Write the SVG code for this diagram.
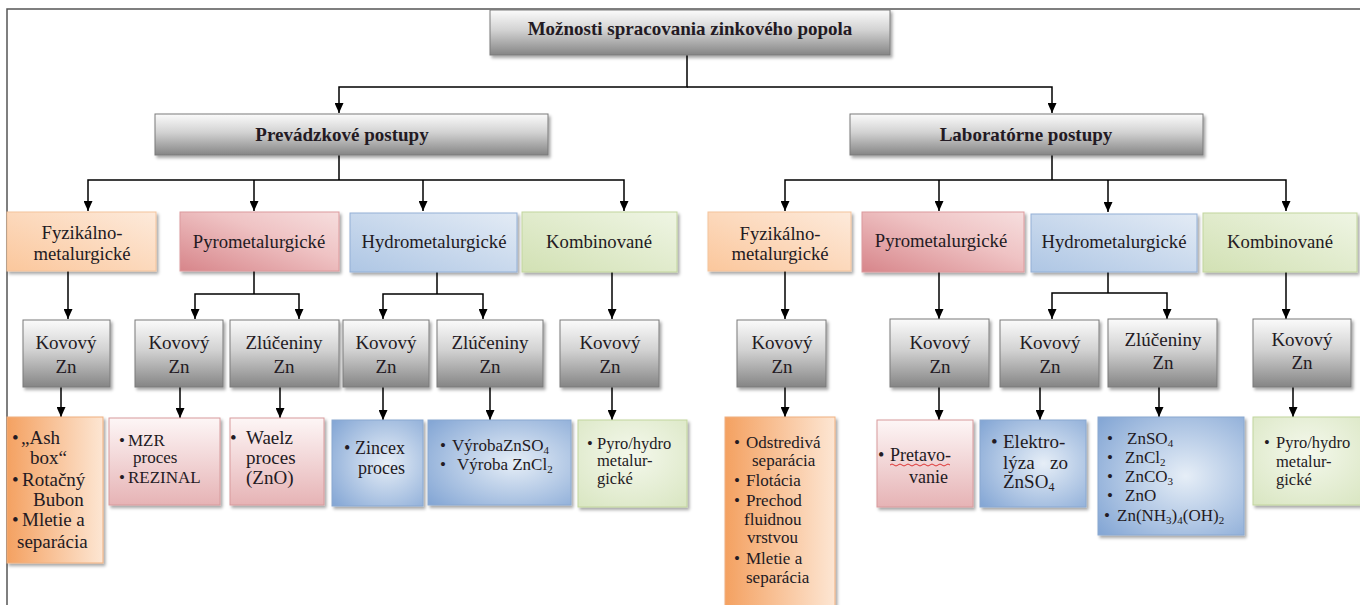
<svg xmlns="http://www.w3.org/2000/svg" width="1360" height="605" viewBox="0 0 1360 605" font-family="'Liberation Serif','DejaVu Serif','Times New Roman',serif">
<style>
text{font-family:'Liberation Serif','DejaVu Serif','Times New Roman',serif;fill:#231a23}
.h{font-weight:bold;font-size:19px;text-anchor:middle}
.l2{font-size:18.7px;text-anchor:middle}
.l3{font-size:19px;text-anchor:middle}
.t19{font-size:19px}
.t18{font-size:18px}
.t17{font-size:17px}
.t16{font-size:16.5px}
.c{fill:none;stroke:#000;stroke-width:1.5}
.a{marker-end:url(#ah)}
.gray{fill:url(#gGray);stroke:#7a7a7a;stroke-width:1;filter:url(#sh)}
.or2{fill:url(#gOr2);stroke:#f3c39c;stroke-width:1;filter:url(#sh)}
.pk2{fill:url(#gPk2);stroke:#dc9a9d;stroke-width:1;filter:url(#sh)}
.bl2{fill:url(#gBl2);stroke:#93b0d6;stroke-width:1;filter:url(#sh)}
.gr2{fill:url(#gGr2);stroke:#c2d59d;stroke-width:1;filter:url(#sh)}
.or4{fill:url(#gOr4);stroke:#efb080;stroke-width:1;filter:url(#sh)}
.pk4{fill:url(#gPk4);stroke:#d79a9c;stroke-width:1;filter:url(#sh)}
.bl4{fill:url(#gBl4);stroke:#8aa8d0;stroke-width:1;filter:url(#sh)}
.gr4{fill:url(#gGr4);stroke:#c2d59d;stroke-width:1;filter:url(#sh)}
</style>
<defs>
<marker id="ah" markerWidth="10" markerHeight="9" refX="10" refY="4.5" orient="auto" markerUnits="userSpaceOnUse"><path d="M0,0 L10,4.5 L0,9 z" fill="#000"/></marker>
<filter id="sh" x="-10%" y="-10%" width="125%" height="130%"><feDropShadow dx="2" dy="2.5" stdDeviation="1.5" flood-color="#000" flood-opacity="0.35"/></filter>
<linearGradient id="gGray" x1="0" y1="0" x2="0" y2="1"><stop offset="0" stop-color="#fbfbfb"/><stop offset="0.45" stop-color="#d2d2d2"/><stop offset="1" stop-color="#858585"/></linearGradient>
<linearGradient id="gOr2" x1="0" y1="1" x2="1" y2="0"><stop offset="0" stop-color="#fbc79c"/><stop offset="1" stop-color="#fdeadb"/></linearGradient>
<linearGradient id="gPk2" x1="0" y1="1" x2="1" y2="0"><stop offset="0" stop-color="#d7858a"/><stop offset="0.6" stop-color="#efc3c4"/><stop offset="1" stop-color="#f6dede"/></linearGradient>
<linearGradient id="gBl2" x1="0" y1="1" x2="1" y2="0"><stop offset="0" stop-color="#aec6e4"/><stop offset="1" stop-color="#e3ebf5"/></linearGradient>
<linearGradient id="gGr2" x1="0" y1="1" x2="1" y2="0"><stop offset="0" stop-color="#d2e1b4"/><stop offset="1" stop-color="#eff5e4"/></linearGradient>
<linearGradient id="gOr4" x1="0" y1="0" x2="1" y2="0"><stop offset="0" stop-color="#f4a161"/><stop offset="1" stop-color="#fde6d3"/></linearGradient>
<linearGradient id="gPk4" x1="0" y1="0" x2="0" y2="1"><stop offset="0" stop-color="#fdf6f6"/><stop offset="1" stop-color="#e6b3b5"/></linearGradient>
<radialGradient id="gBl4" cx="0.6" cy="0.5" r="0.75"><stop offset="0" stop-color="#e6eef7"/><stop offset="1" stop-color="#85a7d5"/></radialGradient>
<radialGradient id="gGr4" cx="0.5" cy="0.4" r="0.8"><stop offset="0" stop-color="#f4f8ec"/><stop offset="1" stop-color="#d8e5c0"/></radialGradient>
</defs>
<rect width="1360" height="605" fill="#fff"/>
<path d="M7,605 V9 H1360" fill="none" stroke="#555" stroke-width="1.5"/>

<g id="connectors">
<path class="c a" d="M687,55 V87 H339 V113"/>
<path class="c a" d="M687,87 H1052 V113"/>
<path class="c" d="M339,155 V180"/>
<path class="c a" d="M339,180 H88 V211"/>
<path class="c a" d="M254,180 V211"/>
<path class="c a" d="M339,180 H624 V211"/>
<path class="c a" d="M423,180 V211"/>
<path class="c" d="M1052,155 V180"/>
<path class="c a" d="M1052,180 H785 V211"/>
<path class="c a" d="M939,180 V211"/>
<path class="c a" d="M1052,180 H1286 V211"/>
<path class="c a" d="M1108,180 V212"/>
<path class="c a" d="M68,271 V319"/>
<path class="c" d="M254,271 V294"/>
<path class="c a" d="M254,294 H195 V319"/>
<path class="c a" d="M254,294 H299 V319"/>
<path class="c" d="M437,272 V294"/>
<path class="c a" d="M437,294 H383 V319"/>
<path class="c a" d="M437,294 H483 V319"/>
<path class="c a" d="M612,272 V319"/>
<path class="c a" d="M785,271 V319"/>
<path class="c a" d="M939,272 V319"/>
<path class="c" d="M1108,272 V293"/>
<path class="c a" d="M1108,293 H1052 V319"/>
<path class="c a" d="M1108,293 H1167 V319"/>
<path class="c a" d="M1286,272 V319"/>
<path class="c a" d="M61,387 V417"/>
<path class="c a" d="M180,387 V418"/>
<path class="c a" d="M280,387 V418"/>
<path class="c a" d="M383,387 V420"/>
<path class="c a" d="M490,387 V420"/>
<path class="c a" d="M612,387 V420"/>
<path class="c a" d="M785,387 V417"/>
<path class="c a" d="M939,387 V420"/>
<path class="c a" d="M1040,387 V420"/>
<path class="c a" d="M1159,387 V417"/>
<path class="c a" d="M1293,387 V417"/>
</g>

<g id="root"><rect class="gray" x="490" y="10" width="400" height="45"/><text class="h" x="690" y="35">Možnosti spracovania zinkového popola</text></g>
<g id="prevadzkove"><rect class="gray" x="155" y="114" width="393" height="41"/><text class="h" x="342" y="141" font-size="20">Prevádzkové postupy</text></g>
<g id="laboratorne"><rect class="gray" x="850" y="114" width="353" height="41"/><text class="h" x="1026" y="141" font-size="20">Laboratórne postupy</text></g>

<g id="p-fyz"><rect class="or2" x="7" y="212" width="149" height="59"/><text class="l2" x="82" y="239">Fyzikálno-</text><text class="l2" x="82" y="260">metalurgické</text></g>
<g id="p-pyro"><rect class="pk2" x="180" y="212" width="159" height="59"/><text class="l2" x="259" y="248">Pyrometalurgické</text></g>
<g id="p-hydro"><rect class="bl2" x="350" y="213" width="167" height="59"/><text class="l2" x="434" y="248">Hydrometalurgické</text></g>
<g id="p-komb"><rect class="gr2" x="522" y="212" width="155" height="60"/><text class="l2" x="599" y="248">Kombinované</text></g>
<g id="l-fyz"><rect class="or2" x="708" y="212" width="143" height="59"/><text class="l2" x="780" y="240">Fyzikálno-</text><text class="l2" x="780" y="260">metalurgické</text></g>
<g id="l-pyro"><rect class="pk2" x="862" y="212" width="162" height="60"/><text class="l2" x="941" y="247">Pyrometalurgické</text></g>
<g id="l-hydro"><rect class="bl2" x="1031" y="214" width="166" height="58"/><text class="l2" x="1114" y="248">Hydrometalurgické</text></g>
<g id="l-komb"><rect class="gr2" x="1203" y="213" width="154" height="59"/><text class="l2" x="1280" y="248">Kombinované</text></g>

<g id="p-fyz-kov"><rect class="gray" x="23" y="320" width="87" height="67"/><text class="l3" x="66" y="349">Kovový</text><text class="l3" x="66" y="373">Zn</text></g>
<g id="p-pyro-kov"><rect class="gray" x="135" y="320" width="88" height="67"/><text class="l3" x="179" y="349">Kovový</text><text class="l3" x="179" y="373">Zn</text></g>
<g id="p-pyro-zl"><rect class="gray" x="230" y="320" width="109" height="67"/><text class="l3" x="284" y="349">Zlúčeniny</text><text class="l3" x="284" y="373">Zn</text></g>
<g id="p-hydro-kov"><rect class="gray" x="343" y="320" width="86" height="67"/><text class="l3" x="386" y="349">Kovový</text><text class="l3" x="386" y="373">Zn</text></g>
<g id="p-hydro-zl"><rect class="gray" x="437" y="320" width="106" height="67"/><text class="l3" x="490" y="349">Zlúčeniny</text><text class="l3" x="490" y="373">Zn</text></g>
<g id="p-komb-kov"><rect class="gray" x="560" y="320" width="99" height="67"/><text class="l3" x="610" y="349">Kovový</text><text class="l3" x="610" y="373">Zn</text></g>
<g id="l-fyz-kov"><rect class="gray" x="737" y="320" width="89" height="67"/><text class="l3" x="782" y="349">Kovový</text><text class="l3" x="782" y="373">Zn</text></g>
<g id="l-pyro-kov"><rect class="gray" x="890" y="319" width="99" height="68"/><text class="l3" x="940" y="349">Kovový</text><text class="l3" x="940" y="373">Zn</text></g>
<g id="l-hydro-kov"><rect class="gray" x="1000" y="320" width="99" height="67"/><text class="l3" x="1050" y="349">Kovový</text><text class="l3" x="1050" y="373">Zn</text></g>
<g id="l-hydro-zl"><rect class="gray" x="1108" y="319" width="109" height="68"/><text class="l3" x="1163" y="346">Zlúčeniny</text><text class="l3" x="1163" y="369">Zn</text></g>
<g id="l-komb-kov"><rect class="gray" x="1253" y="319" width="98" height="68"/><text class="l3" x="1302" y="346">Kovový</text><text class="l3" x="1302" y="369">Zn</text></g>

<g id="p-fyz-list"><rect class="or4" x="7" y="417" width="96" height="146"/>
<text class="t19" x="12" y="444">•</text><text class="t19" x="21" y="444">„Ash</text>
<text class="t19" x="30" y="464">box“</text>
<text class="t19" x="12" y="486">•</text><text class="t19" x="22" y="486">Rotačný</text>
<text class="t19" x="33" y="506">Bubon</text>
<text class="t19" x="12" y="526">•</text><text class="t19" x="22" y="526">Mletie a</text>
<text class="t19" x="17" y="548">separácia</text></g>

<g id="p-pyro-kov-list"><rect class="pk4" x="109" y="418" width="111" height="87"/>
<text class="t17" x="119" y="446">•</text><text class="t17" x="128" y="446">MZR</text>
<text class="t17" x="133" y="463">proces</text>
<text class="t17" x="119" y="483">•</text><text class="t17" x="128" y="483">REZINAL</text></g>

<g id="p-pyro-zl-list"><rect class="pk4" x="230" y="418" width="94" height="87"/>
<text class="t19" x="230" y="444">•</text><text class="t19" x="246" y="444">Waelz</text>
<text class="t19" x="246" y="464">proces</text>
<text class="t19" x="246" y="484">(ZnO)</text></g>

<g id="p-hydro-kov-list"><rect class="bl4" x="332" y="420" width="91" height="86"/>
<text class="t18" x="344" y="454">•</text><text class="t18" x="355" y="454">Zincex</text>
<text class="t18" x="358" y="474">proces</text></g>

<g id="p-hydro-zl-list"><rect class="bl4" x="428" y="420" width="143" height="85"/>
<text class="t17" x="440" y="451">•</text><text class="t17" x="452" y="451">VýrobaZnSO<tspan font-size="11" dy="3">4</tspan></text>
<text class="t17" x="440" y="470">•</text><text class="t17" x="457" y="470">Výroba ZnCl<tspan font-size="11" dy="3">2</tspan></text></g>

<g id="p-komb-list"><rect class="gr4" x="578" y="420" width="109" height="87"/>
<text class="t16" x="587" y="449">•</text><text class="t16" x="597" y="449">Pyro/hydro</text>
<text class="t16" x="597" y="466">metalur-</text>
<text class="t16" x="597" y="484">gické</text></g>

<g id="l-fyz-list"><rect class="or4" x="725" y="417" width="110" height="195"/>
<text class="t17" x="734" y="448">•</text><text class="t17" x="746" y="448">Odstredivá</text>
<text class="t17" x="752" y="466">separácia</text>
<text class="t17" x="734" y="486">•</text><text class="t17" x="746" y="486">Flotácia</text>
<text class="t17" x="734" y="506">•</text><text class="t17" x="746" y="506">Prechod</text>
<text class="t17" x="744" y="525">fluidnou</text>
<text class="t17" x="747" y="543">vrstvou</text>
<text class="t17" x="734" y="564">•</text><text class="t17" x="746" y="564">Mletie a</text>
<text class="t17" x="746" y="583">separácia</text></g>

<g id="l-pyro-list"><rect class="pk4" x="877" y="420" width="96" height="87"/>
<text class="t18" x="878" y="461">•</text><text class="t18" x="890" y="461">Pretavo-</text>
<path d="M890,465 q2,-2 4,0 t4,0 t4,0 t4,0 t4,0 t4,0 t4,0 t4,0 t4,0 t4,0 t4,0 t4,0 t4,0 t4,0 t4,0" fill="none" stroke="#d33" stroke-width="1"/>
<text class="t18" x="909" y="483">vanie</text></g>

<g id="l-hydro-kov-list"><rect class="bl4" x="980" y="420" width="106" height="87"/>
<text class="t19" x="991" y="448">•</text><text class="t19" x="1003" y="448">Elektro-</text>
<text class="t19" x="1003" y="469">lýza</text><text class="t19" x="1068" y="469" text-anchor="end">zo</text>
<text class="t19" x="1003" y="488">ZnSO<tspan font-size="12" dy="3">4</tspan></text></g>

<g id="l-hydro-zl-list"><rect class="bl4" x="1098" y="417" width="146" height="118"/>
<text class="t17" x="1107" y="444">•</text><text class="t17" x="1127" y="444">ZnSO<tspan font-size="11" dy="3">4</tspan></text>
<text class="t17" x="1107" y="463">•</text><text class="t17" x="1125" y="463">ZnCl<tspan font-size="11" dy="3">2</tspan></text>
<text class="t17" x="1107" y="482">•</text><text class="t17" x="1125" y="482">ZnCO<tspan font-size="11" dy="3">3</tspan></text>
<text class="t17" x="1107" y="501">•</text><text class="t17" x="1125" y="501">ZnO</text>
<text class="t17" x="1104" y="521">•</text><text class="t17" x="1117" y="521">Zn(NH<tspan font-size="11" dy="3">3</tspan><tspan dy="-3">)</tspan><tspan font-size="11" dy="3">4</tspan><tspan dy="-3">(OH)</tspan><tspan font-size="11" dy="3">2</tspan></text></g>

<g id="l-komb-list"><rect class="gr4" x="1253" y="417" width="110" height="88"/>
<text class="t16" x="1264" y="448">•</text><text class="t16" x="1276" y="448">Pyro/hydro</text>
<text class="t16" x="1276" y="467">metalur-</text>
<text class="t16" x="1276" y="485">gické</text></g>
</svg>
